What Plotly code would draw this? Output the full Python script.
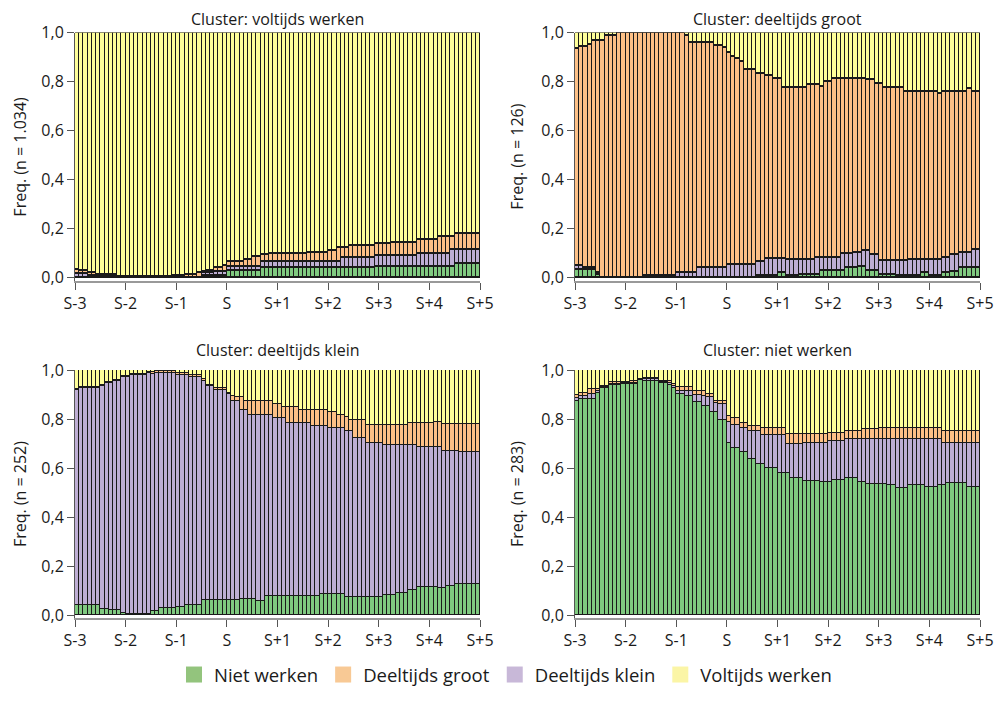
import plotly.graph_objects as go
from plotly.subplots import make_subplots

# 96 maanden, van 3 jaar voor tot 5 jaar na de scheiding (S)
maand_pos = [i + 0.5 for i in range(96)]
tick_pos = [0, 12, 24, 36, 48, 60, 72, 84, 96]
tick_labels = ["S-3", "S-2", "S-1", "S", "S+1", "S+2", "S+3", "S+4", "S+5"]
y_ticks = [0, 0.2, 0.4, 0.6, 0.8, 1.0]

toestanden = ["Niet werken", "Deeltijds groot", "Deeltijds klein", "Voltijds werken"]
kleuren = {"Niet werken": "#7fc97f", "Deeltijds groot": "#fdc086",
           "Deeltijds klein": "#beaed4", "Voltijds werken": "#ffff99"}
legenda_kleuren = {"Niet werken": "#93c47d", "Deeltijds groot": "#f8c995",
                   "Deeltijds klein": "#c8b8d8", "Voltijds werken": "#fbf5a6"}

titels = ["Cluster: voltijds werken", "Cluster: deeltijds groot",
          "Cluster: deeltijds klein", "Cluster: niet werken"]
n_labels = ["Freq. (n = 1.034)", "Freq. (n = 126)", "Freq. (n = 252)", "Freq. (n = 283)"]

# --- cluster voltijds werken ---
vw_niet = [
    0, 0, 0, 0, 0, 0, 0, 0, 0, 0, 0, 0,
    0, 0, 0, 0, 0, 0, 0, 0, 0, 0, 0, 0,
    0, 0, 0, 0, 0, 0, .01, .01, .01, .01, .01, .01,
    .03, .03, .03, .03, .03, .03, .03, .03, .04, .04, .04, .04,
    .04, .04, .04, .04, .04, .04, .04, .04, .04, .04, .04, .04,
    .04, .04, .04, .04, .04, .04, .04, .04, .04, .04, .04, .045,
    .045, .045, .045, .045, .045, .045, .045, .045, .045, .045, .045, .045,
    .045, .045, .045, .045, .045, .045, .06, .06, .06, .06, .06, .06]
vw_klein = [
    .016, .016, .016, .008, .008, .008, .008, .008, .008, .008, .003, .003,
    .003, .003, .003, .003, .003, .003, .003, .003, .003, .003, .003, .003,
    .003, .003, .003, .003, .003, .003, .01, .01, .01, .015, .015, .015,
    .015, .015, .015, .015, .015, .015, .015, .015, .025, .025, .025, .025,
    .025, .025, .025, .025, .025, .025, .025, .025, .025, .025, .025, .025,
    .025, .025, .025, .043, .043, .043, .043, .043, .043, .043, .043, .047,
    .047, .047, .047, .047, .047, .047, .047, .047, .047, .055, .055, .055,
    .055, .055, .055, .055, .055, .07, .055, .055, .055, .055, .055, .055]
vw_groot = [
    .016, .012, .012, .012, .012, .005, .005, .005, .005, .005, .003, .003,
    .003, .003, .003, .003, .003, .003, .003, .003, .003, .003, .003, .007,
    .007, .007, .012, .012, .012, .017, .005, .01, .01, .015, .015, .025,
    .02, .02, .02, .02, .03, .03, .04, .04, .03, .03, .035, .035,
    .035, .035, .035, .035, .035, .035, .035, .04, .04, .04, .04, .04,
    .045, .045, .06, .042, .042, .047, .047, .047, .047, .047, .047, .048,
    .048, .048, .048, .053, .053, .053, .053, .053, .053, .057, .057, .057,
    .057, .057, .07, .07, .07, .055, .065, .065, .065, .065, .065, .065]
vw_vol = [
    .968, .972, .972, .98, .98, .987, .987, .987, .987, .987, .994, .994,
    .994, .994, .994, .994, .994, .994, .994, .994, .994, .994, .994, .99,
    .99, .99, .985, .985, .985, .98, .975, .97, .97, .96, .96, .95,
    .935, .935, .935, .935, .925, .925, .915, .915, .905, .905, .9, .9,
    .9, .9, .9, .9, .9, .9, .9, .895, .895, .895, .895, .895,
    .89, .89, .875, .875, .875, .87, .87, .87, .87, .87, .87, .86,
    .86, .86, .86, .855, .855, .855, .855, .855, .855, .843, .843, .843,
    .843, .843, .83, .83, .83, .83, .82, .82, .82, .82, .82, .82]

# --- cluster deeltijds groot ---
dg_niet = [
    .032, .032, .032, .032, .032, .015, 0, 0, 0, 0, 0, 0,
    0, 0, 0, 0, 0, 0, 0, 0, 0, 0, 0, 0,
    0, 0, 0, 0, 0, 0, 0, 0, 0, 0, 0, 0,
    0, 0, 0, 0, 0, 0, 0, .01, .01, .01, .01, .01,
    .02, .02, .01, .01, .01, .015, .015, .015, .015, .015, .03, .03,
    .03, .03, .03, .03, .04, .04, .04, .045, .045, .03, .03, .03,
    .015, .015, .015, .015, .01, .01, .01, .01, .01, .01, .02, .02,
    .01, .01, .01, .02, .02, .025, .025, .04, .04, .04, .04, .04]
dg_klein = [
    .016, .016, .008, .008, .008, .005, .003, .003, .003, .003, .003, .003,
    .003, .003, .003, .003, .008, .008, .008, .008, .008, .008, .008, .008,
    .02, .02, .02, .02, .02, .043, .043, .043, .043, .043, .043, .043,
    .055, .055, .055, .055, .055, .055, .055, .055, .055, .07, .07, .07,
    .06, .06, .066, .066, .066, .061, .061, .061, .061, .068, .053, .053,
    .053, .053, .053, .07, .06, .06, .065, .06, .067, .082, .065, .065,
    .057, .057, .057, .057, .062, .062, .062, .066, .066, .066, .056, .056,
    .066, .066, .066, .063, .063, .07, .07, .065, .065, .065, .076, .076]
dg_groot = [
    .885, .896, .904, .913, .929, .949, .966, .984, .984, .984, .997, .997,
    .997, .997, .997, .997, .992, .992, .992, .992, .992, .992, .992, .992,
    .98, .98, .967, .94, .94, .917, .917, .917, .917, .904, .904, .897,
    .865, .849, .838, .825, .795, .795, .795, .768, .768, .743, .743, .733,
    .733, .697, .701, .701, .701, .701, .701, .711, .711, .704, .697, .717,
    .717, .73, .73, .713, .713, .713, .708, .708, .701, .695, .712, .698,
    .721, .704, .704, .704, .704, .704, .688, .684, .684, .684, .684, .684,
    .684, .684, .677, .677, .677, .665, .665, .655, .655, .668, .644, .644]
dg_vol = [
    .067, .056, .056, .047, .031, .031, .031, .013, .013, .013, 0, 0,
    0, 0, 0, 0, 0, 0, 0, 0, 0, 0, 0, 0,
    0, 0, .013, .04, .04, .04, .04, .04, .04, .053, .053, .06,
    .08, .096, .107, .12, .15, .15, .15, .167, .167, .177, .177, .187,
    .187, .223, .223, .223, .223, .223, .223, .213, .213, .213, .22, .2,
    .2, .187, .187, .187, .187, .187, .187, .187, .187, .193, .193, .207,
    .207, .224, .224, .224, .224, .224, .24, .24, .24, .24, .24, .24,
    .24, .24, .247, .24, .24, .24, .24, .24, .24, .227, .24, .24]

# --- cluster deeltijds klein ---
dk_niet = [
    .04, .04, .04, .04, .04, .04, .026, .026, .02, .02, .02, .01,
    .004, .004, .004, .004, .004, .004, .017, .017, .03, .03, .03, .03,
    .035, .035, .042, .042, .042, .042, .062, .062, .062, .062, .062, .062,
    .062, .062, .062, .066, .066, .066, .066, .06, .06, .079, .079, .079,
    .079, .079, .079, .079, .079, .079, .079, .079, .079, .079, .086, .086,
    .086, .086, .086, .086, .075, .075, .075, .075, .075, .075, .075, .075,
    .075, .083, .083, .083, .092, .092, .092, .101, .101, .114, .114, .114,
    .114, .114, .112, .112, .118, .118, .128, .128, .128, .128, .128, .128]
dk_klein = [
    .877, .886, .886, .886, .886, .886, .91, .92, .926, .936, .936, .96,
    .966, .975, .975, .975, .975, .985, .968, .971, .958, .958, .958, .958,
    .946, .946, .939, .93, .93, .93, .893, .873, .873, .855, .855, .855,
    .839, .813, .813, .77, .77, .75, .75, .756, .756, .737, .737, .724,
    .724, .724, .704, .704, .704, .704, .704, .704, .693, .693, .686, .686,
    .677, .677, .677, .677, .675, .675, .649, .649, .649, .629, .629, .629,
    .629, .61, .61, .61, .601, .601, .601, .592, .592, .574, .574, .574,
    .574, .574, .576, .559, .553, .553, .543, .536, .536, .536, .536, .536]
dk_groot = [
    .004, .004, .004, .004, .004, .004, .004, .004, .004, .004, .004, .004,
    .004, .004, .004, .004, .004, .004, .008, .008, .008, .008, .008, .008,
    .006, .006, .006, .006, .006, .006, .01, .005, .005, .008, .008, .008,
    .007, .02, .013, .052, .039, .059, .059, .059, .059, .059, .059, .057,
    .057, .047, .067, .067, .067, .053, .053, .053, .064, .064, .064, .064,
    .066, .066, .053, .053, .057, .046, .072, .072, .072, .072, .072, .072,
    .072, .083, .083, .083, .083, .083, .083, .09, .09, .095, .095, .095,
    .095, .102, .102, .109, .109, .109, .109, .116, .116, .116, .116, .116]
dk_vol = [
    .079, .07, .07, .07, .07, .07, .06, .05, .05, .04, .04, .026,
    .026, .017, .017, .017, .017, .007, .007, .004, .004, .004, .004, .004,
    .013, .013, .013, .022, .022, .022, .035, .06, .06, .075, .075, .075,
    .092, .105, .112, .112, .125, .125, .125, .125, .125, .125, .125, .14,
    .14, .15, .15, .15, .15, .164, .164, .164, .164, .164, .164, .164,
    .171, .171, .184, .184, .193, .204, .204, .204, .204, .224, .224, .224,
    .224, .224, .224, .224, .224, .224, .224, .217, .217, .217, .217, .217,
    .217, .21, .21, .22, .22, .22, .22, .22, .22, .22, .22, .22]

# --- cluster niet werken ---
nw_niet = [
    .875, .882, .882, .882, .882, .908, .925, .925, .938, .938, .938, .943,
    .943, .943, .943, .96, .957, .957, .957, .957, .947, .947, .938, .925,
    .901, .901, .895, .895, .868, .868, .855, .855, .829, .829, .796, .796,
    .704, .684, .684, .667, .667, .638, .638, .618, .618, .601, .601, .601,
    .579, .579, .579, .559, .559, .559, .549, .549, .549, .549, .543, .543,
    .543, .553, .553, .553, .559, .559, .559, .543, .543, .536, .536, .536,
    .536, .536, .53, .53, .517, .517, .517, .53, .53, .53, .53, .522,
    .522, .522, .53, .53, .539, .539, .539, .539, .539, .522, .522, .522]
nw_klein = [
    .012, .012, .012, .02, .02, .006, .004, .004, .005, .005, .005, .004,
    .004, .005, .005, .002, .005, .005, .005, .005, .005, .005, .01, .008,
    .015, .015, .02, .02, .03, .03, .04, .035, .06, .035, .065, .065,
    .085, .092, .092, .096, .096, .112, .112, .132, .119, .136, .136, .136,
    .158, .158, .118, .138, .138, .138, .155, .155, .155, .155, .161, .161,
    .168, .158, .158, .158, .158, .158, .158, .174, .177, .184, .184, .184,
    .184, .184, .19, .19, .203, .203, .203, .19, .19, .19, .19, .198,
    .198, .198, .19, .174, .165, .165, .165, .165, .165, .182, .182, .182]
nw_groot = [
    .012, .014, .014, .019, .019, .007, .005, .005, .008, .008, .009, .005,
    .005, .006, .006, .002, .005, .005, .005, .005, .005, .005, .009, .008,
    .014, .014, .015, .015, .016, .016, .019, .011, .012, .011, .014, .014,
    .023, .027, .027, .02, .02, .022, .022, .022, .026, .026, .026, .026,
    .026, .026, .044, .044, .044, .044, .037, .037, .037, .037, .037, .037,
    .032, .032, .032, .032, .036, .036, .036, .036, .041, .041, .041, .041,
    .043, .043, .043, .043, .043, .043, .043, .043, .043, .043, .043, .043,
    .043, .043, .043, .046, .046, .046, .046, .046, .046, .046, .046, .046]
nw_vol = [
    .101, .092, .092, .079, .079, .079, .066, .066, .049, .049, .048, .048,
    .048, .046, .046, .036, .033, .033, .033, .033, .043, .043, .043, .059,
    .07, .07, .07, .07, .086, .086, .086, .099, .099, .125, .125, .125,
    .188, .197, .197, .217, .217, .228, .228, .228, .237, .237, .237, .237,
    .237, .237, .259, .259, .259, .259, .259, .259, .259, .259, .259, .259,
    .257, .257, .257, .257, .247, .247, .247, .247, .239, .239, .239, .239,
    .237, .237, .237, .237, .237, .237, .237, .237, .237, .237, .237, .237,
    .237, .237, .237, .25, .25, .25, .25, .25, .25, .25, .25, .25]

panels = [
    {"Niet werken": vw_niet, "Deeltijds klein": vw_klein, "Deeltijds groot": vw_groot, "Voltijds werken": vw_vol},
    {"Niet werken": dg_niet, "Deeltijds klein": dg_klein, "Deeltijds groot": dg_groot, "Voltijds werken": dg_vol},
    {"Niet werken": dk_niet, "Deeltijds klein": dk_klein, "Deeltijds groot": dk_groot, "Voltijds werken": dk_vol},
    {"Niet werken": nw_niet, "Deeltijds klein": nw_klein, "Deeltijds groot": nw_groot, "Voltijds werken": nw_vol},
]
for p in panels:
    for k, v in p.items():
        assert len(v) == 96, (k, len(v))

stapel_volgorde = ["Niet werken", "Deeltijds klein", "Deeltijds groot", "Voltijds werken"]
posities = [(1, 1), (1, 2), (2, 1), (2, 2)]

fig = make_subplots(rows=2, cols=2)

for p, (r, c) in zip(panels, posities):
    for naam in stapel_volgorde:
        fig.add_trace(go.Bar(
            x=maand_pos, y=p[naam], name=naam, showlegend=False,
            marker=dict(color=kleuren[naam], line=dict(color="#1a1a1a", width=1.2)),
            hoverinfo="skip"), row=r, col=c)

# legenda (lege traces zodat de vierkantjes de lichtere legendakleuren krijgen)
for naam in toestanden:
    fig.add_trace(go.Scatter(
        x=[None], y=[None], mode="markers", name=naam,
        marker=dict(symbol="square", size=16, color=legenda_kleuren[naam])))

# de pagina heeft 8px marge; posities hieronder in schermpixels
W, H, OFF = 991, 686, 8
def fx(px):
    return (px - OFF) / W
def fy(py):
    return 1 - (py - OFF) / H

x_dom = [[fx(75), fx(480)], [fx(575), fx(980)]]
y_dom = [[fy(286), fy(33)], [fy(630), fy(377)]]
titel_y = [fy(19), fy(357)]
xlabel_x = [fx(20), fx(517)]

for i, (r, c) in enumerate(posities):
    sfx = "" if i == 0 else str(i + 1)
    fig.layout["xaxis" + sfx].update(
        domain=x_dom[c - 1], range=[0, 96], tickvals=tick_pos, ticktext=tick_labels,
        ticks="outside", ticklen=7, tickcolor="#555", showline=True,
        linecolor="#999", linewidth=2, showgrid=False, zeroline=False)
    fig.layout["yaxis" + sfx].update(
        domain=y_dom[r - 1], range=[-0.012, 1.0], tickvals=y_ticks, tickformat=".1f",
        ticks="outside", ticklen=7, tickcolor="#555", showline=True,
        linecolor="#555", linewidth=1, showgrid=False, zeroline=False)
    xm = (x_dom[c - 1][0] + x_dom[c - 1][1]) / 2
    fig.add_annotation(text=titels[i], x=xm, y=titel_y[r - 1], xref="paper", yref="paper",
                       showarrow=False, font=dict(size=16), xanchor="center", yanchor="middle")
    fig.add_annotation(text=n_labels[i], x=xlabel_x[c - 1],
                       y=(y_dom[r - 1][0] + y_dom[r - 1][1]) / 2,
                       xref="paper", yref="paper", showarrow=False, textangle=-90,
                       font=dict(size=16), xanchor="center", yanchor="middle")

fig.update_layout(
    width=W, height=H, template="none", barmode="stack", bargap=0,
    separators=",.",
    font=dict(family="Open Sans", size=16, color="#1a1a1a"),
    paper_bgcolor="white", plot_bgcolor="white",
    margin=dict(l=0, r=0, t=0, b=0),
    legend=dict(orientation="h", traceorder="normal", x=fx(174), xanchor="left",
                y=fy(688), yanchor="middle", font=dict(size=18.5), itemwidth=30),
)

fig.write_html("out.html")
